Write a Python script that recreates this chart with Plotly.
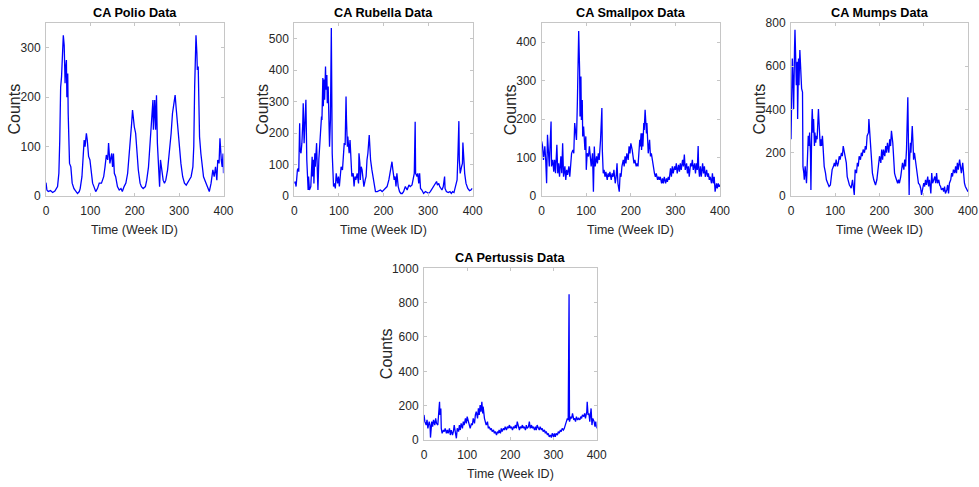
import plotly.graph_objects as go

# ---------------- data (week id, counts) ----------------
polio_weeks = [0, 2, 5, 10, 15, 20, 26, 29, 31, 32, 33, 35, 37, 39, 41, 43, 44, 46, 47, 49, 50, 53, 56, 59, 63,
               67, 71, 75, 77, 81, 84, 86, 88, 91, 93, 96, 99, 101, 105, 108, 112, 116, 120, 125, 130, 133,
               136, 139, 141, 144, 146, 148, 150, 152, 154, 157, 161, 165, 169, 172, 176, 180, 184, 188, 190,
               193, 195, 197, 199, 202, 205, 208, 212, 215, 219, 224, 227, 231, 233, 236, 239, 241, 242, 245,
               247, 249, 251, 254, 256, 258, 261, 264, 267, 270, 274, 278, 282, 285, 288, 291, 293, 295, 298,
               301, 304, 308, 312, 316, 319, 323, 327, 331, 333, 335, 337, 338, 340, 341, 343, 344, 346, 349,
               352, 355, 358, 362, 365, 368, 372, 374, 376, 379, 382, 385, 387, 390, 392, 395, 397, 399, 400]
polio_counts = [27, 12, 9, 11, 7, 10, 19, 46, 113, 180, 220, 241, 295, 325, 305, 228, 255, 275, 200, 248, 167,
                66, 59, 26, 15, 9, 5, 9, 15, 39, 80, 113, 100, 127, 113, 80, 73, 53, 26, 19, 9, 15, 26, 26,
                39, 59, 83, 73, 107, 66, 73, 86, 59, 86, 46, 39, 19, 12, 15, 9, 19, 26, 46, 86, 120, 147,
                174, 154, 140, 127, 86, 53, 26, 19, 15, 19, 32, 59, 86, 127, 160, 194, 134, 194, 134, 204,
                107, 66, 19, 73, 46, 32, 26, 32, 53, 86, 127, 167, 187, 204, 181, 160, 120, 86, 66, 39, 26,
                22, 26, 32, 39, 59, 100, 221, 275, 325, 289, 255, 262, 187, 120, 86, 59, 39, 32, 22, 15, 9,
                26, 39, 53, 39, 59, 32, 73, 66, 117, 73, 59, 86, 46]

rubella_weeks = [0, 2, 4, 7, 9, 10, 12, 13, 15, 17, 19, 20, 22, 23, 25, 26, 28, 31, 32, 34, 37, 40, 41, 43, 44,
                 46, 47, 49, 50, 52, 53, 55, 57, 59, 61, 62, 64, 65, 67, 68, 70, 71, 73, 74, 76, 77, 79, 81,
                 83, 85, 86, 88, 90, 92, 94, 97, 99, 101, 103, 105, 108, 110, 112, 114, 116, 117, 119, 120,
                 123, 125, 127, 129, 132, 134, 136, 138, 141, 144, 145, 147, 148, 150, 152, 154, 156, 159, 161,
                 163, 165, 168, 169, 171, 174, 176, 179, 182, 186, 189, 193, 197, 200, 204, 208, 212, 215, 218,
                 219, 221, 224, 226, 228, 230, 233, 236, 239, 242, 245, 249, 253, 257, 260, 264, 267, 269, 271,
                 272, 275, 277, 279, 281, 283, 286, 290, 294, 298, 301, 305, 309, 313, 316, 319, 321, 324, 326,
                 328, 331, 334, 337, 338, 341, 345, 349, 352, 355, 358, 361, 365, 367, 369, 370, 372, 375, 377,
                 378, 380, 382, 385, 389, 393, 396, 399]
rubella_counts = [40, 46, 30, 83, 88, 77, 231, 146, 136, 168, 231, 295, 168, 200, 300, 306, 115, 19, 62, 19, 30,
                  125, 62, 115, 40, 136, 93, 157, 168, 62, 19, 115, 157, 189, 253, 242, 375, 285, 370, 306, 412,
                  338, 385, 295, 348, 221, 157, 242, 534, 136, 72, 30, 40, 24, 72, 40, 62, 30, 62, 93, 83, 136,
                  168, 162, 316, 242, 157, 189, 136, 178, 115, 62, 72, 30, 62, 51, 72, 40, 136, 104, 51, 93, 83,
                  62, 30, 51, 62, 115, 136, 194, 157, 115, 83, 62, 40, 14, 14, 17, 19, 14, 19, 24, 30, 51, 72,
                  93, 109, 83, 51, 62, 30, 72, 30, 14, 8, 8, 14, 30, 19, 35, 30, 35, 62, 72, 236, 72, 62, 72, 40,
                  72, 24, 19, 8, 14, 11, 8, 14, 24, 30, 40, 46, 35, 40, 30, 24, 19, 30, 62, 24, 14, 11, 14, 8,
                  14, 11, 30, 51, 136, 238, 115, 72, 93, 104, 170, 115, 72, 40, 24, 17, 19, 24]

smallpox_weeks = [0, 2, 4, 7, 9, 11, 13, 16, 17, 19, 21, 22, 25, 27, 29, 31, 34, 36, 38, 40, 43, 45, 47, 49, 52,
                  54, 56, 58, 61, 63, 65, 67, 70, 72, 74, 76, 78, 80, 82, 83, 85, 86, 88, 89, 91, 92, 94, 95,
                  97, 99, 100, 102, 105, 107, 109, 111, 114, 116, 118, 120, 123, 125, 127, 129, 132, 133, 135,
                  136, 138, 140, 142, 144, 147, 149, 151, 153, 156, 158, 160, 162, 165, 167, 169, 171, 174, 176,
                  178, 180, 183, 185, 187, 189, 191, 194, 196, 198, 200, 203, 205, 207, 209, 212, 214, 216, 218,
                  220, 221, 223, 224, 226, 227, 229, 230, 232, 233, 235, 236, 238, 239, 242, 244, 246, 248, 251,
                  253, 255, 257, 260, 262, 264, 266, 269, 271, 273, 275, 278, 280, 282, 284, 286, 289, 291, 293,
                  295, 298, 300, 302, 304, 307, 309, 311, 313, 316, 318, 320, 322, 325, 327, 329, 331, 334, 336,
                  338, 340, 343, 345, 347, 349, 351, 352, 354, 356, 358, 361, 363, 365, 367, 370, 372, 374, 376,
                  378, 381, 383, 385, 387, 389, 392, 394, 396, 398, 400]
smallpox_counts = [142, 129, 94, 129, 94, 33, 159, 111, 77, 137, 194, 77, 94, 63, 94, 59, 133, 59, 85, 50, 103, 59,
                   137, 50, 77, 42, 68, 55, 77, 50, 85, 111, 120, 111, 190, 172, 146, 242, 355, 429, 329, 207,
                   311, 198, 250, 155, 181, 146, 120, 155, 68, 111, 103, 129, 94, 77, 111, 11, 129, 77, 103, 85,
                   111, 94, 146, 198, 229, 120, 59, 68, 50, 63, 42, 59, 50, 63, 42, 59, 50, 68, 33, 50, 85, 33,
                   11, 59, 50, 77, 94, 77, 103, 85, 111, 94, 129, 111, 137, 120, 103, 85, 94, 77, 85, 77, 111,
                   146, 129, 163, 120, 163, 129, 190, 172, 224, 198, 163, 190, 146, 111, 146, 103, 111, 94, 77,
                   59, 50, 59, 42, 50, 42, 50, 33, 46, 33, 50, 33, 46, 37, 50, 42, 72, 50, 77, 59, 77, 68, 85,
                   59, 81, 63, 85, 68, 94, 77, 108, 68, 85, 59, 77, 50, 85, 77, 94, 68, 85, 59, 85, 68, 130, 77,
                   50, 77, 50, 85, 59, 77, 50, 68, 50, 59, 42, 50, 33, 59, 33, 50, 11, 33, 20, 33, 24, 29]

mumps_weeks = [0, 2, 3, 5, 6, 8, 9, 11, 12, 14, 15, 17, 18, 20, 21, 23, 24, 26, 27, 29, 30, 32, 33, 35, 36, 38,
               39, 41, 42, 44, 45, 47, 48, 50, 51, 53, 54, 56, 57, 59, 60, 62, 63, 65, 66, 68, 69, 71, 73, 75,
               78, 80, 83, 86, 89, 91, 93, 96, 98, 100, 102, 105, 107, 109, 111, 114, 116, 118, 120, 123, 125,
               127, 130, 132, 134, 136, 139, 141, 143, 145, 148, 150, 152, 154, 157, 159, 161, 163, 166, 168,
               170, 172, 175, 176, 178, 180, 182, 184, 187, 189, 191, 194, 196, 198, 200, 203, 205, 207, 209,
               212, 214, 216, 218, 221, 223, 225, 227, 230, 232, 234, 236, 239, 241, 243, 245, 248, 250, 252,
               255, 257, 259, 261, 264, 265, 267, 268, 270, 271, 273, 274, 276, 277, 279, 282, 284, 286, 288,
               291, 293, 295, 297, 300, 302, 304, 306, 309, 311, 313, 316, 318, 320, 322, 325, 327, 329, 331,
               334, 336, 338, 340, 343, 345, 347, 349, 352, 354, 356, 358, 361, 363, 365, 367, 370, 372, 374,
               376, 378, 381, 383, 385, 388, 390, 392, 394, 396, 400]
mumps_counts = [262, 512, 636, 496, 402, 683, 769, 605, 512, 621, 356, 636, 512, 675, 605, 512, 496, 480, 137,
                106, 75, 137, 90, 59, 106, 200, 278, 231, 293, 200, 28, 340, 402, 293, 356, 231, 293, 246, 278,
                262, 309, 402, 356, 293, 231, 262, 231, 278, 200, 137, 106, 75, 59, 44, 51, 90, 122, 137, 153,
                137, 168, 137, 153, 184, 168, 200, 184, 231, 207, 184, 153, 90, 59, 51, 44, 36, 75, 28, 5, 122,
                106, 153, 137, 184, 168, 200, 184, 215, 200, 231, 215, 278, 293, 356, 278, 200, 153, 106, 75,
                59, 51, 75, 122, 153, 184, 153, 215, 168, 215, 184, 231, 200, 246, 200, 262, 231, 301, 246, 168,
                106, 90, 75, 59, 75, 59, 90, 137, 153, 122, 168, 137, 215, 457, 200, 5, 168, 246, 200, 262, 324,
                231, 168, 200, 153, 106, 75, 59, 51, 36, 5, 28, 59, 44, 75, 51, 90, 44, 75, 12, 106, 59, 75, 90,
                59, 106, 59, 75, 51, 44, 28, 36, 20, 44, 12, 28, 51, 12, 59, 75, 106, 90, 122, 106, 137, 106,
                153, 122, 168, 137, 106, 153, 90, 59, 44, 36, 20]

pertussis_weeks = [0, 2, 5, 7, 9, 12, 14, 15, 18, 20, 22, 25, 27, 29, 32, 34, 36, 37, 39, 40, 42, 45, 47, 49, 52,
                   54, 56, 59, 61, 63, 66, 68, 70, 73, 75, 77, 80, 82, 84, 86, 89, 91, 93, 96, 98, 100, 103, 105,
                   107, 110, 112, 114, 117, 119, 121, 124, 126, 128, 130, 132, 134, 136, 137, 140, 142, 144, 147,
                   149, 151, 154, 156, 158, 161, 163, 165, 168, 170, 172, 174, 177, 179, 181, 184, 186, 188, 191,
                   193, 195, 198, 200, 202, 205, 207, 209, 212, 214, 216, 218, 221, 223, 225, 228, 230, 232, 235,
                   237, 239, 242, 244, 246, 249, 251, 253, 256, 258, 260, 262, 265, 267, 269, 272, 274, 276, 279,
                   281, 283, 286, 288, 290, 293, 295, 297, 300, 302, 304, 306, 309, 311, 313, 316, 318, 320, 323,
                   325, 327, 330, 332, 334, 336, 337, 340, 342, 344, 347, 349, 351, 353, 356, 358, 361, 363, 365,
                   367, 370, 372, 374, 377, 378, 380, 382, 384, 387, 389, 391, 394, 396, 398, 400]
pertussis_counts = [146, 107, 87, 117, 68, 107, 87, 14, 107, 78, 117, 87, 126, 97, 87, 165, 223, 146, 184, 68, 39,
                    58, 49, 68, 39, 58, 39, 68, 29, 58, 29, 49, 87, 39, 10, 68, 49, 87, 58, 97, 68, 107, 87, 126,
                    97, 136, 107, 87, 68, 97, 87, 126, 97, 146, 165, 126, 184, 146, 204, 165, 223, 155, 194, 126,
                    107, 87, 107, 68, 78, 58, 68, 49, 58, 39, 49, 29, 49, 39, 58, 39, 68, 49, 68, 58, 78, 58, 78,
                    68, 87, 68, 78, 58, 78, 68, 87, 68, 107, 78, 58, 78, 68, 87, 68, 78, 58, 87, 68, 78, 107, 68,
                    87, 68, 78, 58, 78, 58, 87, 68, 58, 78, 58, 68, 49, 58, 39, 49, 29, 39, 19, 29, 14, 39, 19, 39,
                    19, 39, 29, 49, 39, 58, 49, 68, 58, 68, 87, 107, 126, 117, 849, 107, 136, 126, 155, 117, 126,
                    107, 136, 117, 126, 117, 136, 126, 146, 136, 155, 126, 165, 223, 146, 155, 107, 184, 87, 126,
                    107, 78, 107, 68]

titles = ["CA Polio Data", "CA Rubella Data", "CA Smallpox Data", "CA Mumps Data", "CA Pertussis Data"]
x_title = "Time (Week ID)"
y_title = "Counts"
x_ticks = [0, 100, 200, 300, 400]
y_ticks = [
    [0, 100, 200, 300],
    [0, 100, 200, 300, 400, 500],
    [0, 100, 200, 300, 400],
    [0, 200, 400, 600, 800],
    [0, 200, 400, 600, 800, 1000],
]
y_max = [350, 550, 450, 800, 1000]

series = [
    (polio_weeks, polio_counts),
    (rubella_weeks, rubella_counts),
    (smallpox_weeks, smallpox_counts),
    (mumps_weeks, mumps_counts),
    (pertussis_weeks, pertussis_counts),
]

# ---------------- layout ----------------
W, H = 979, 487


def px(xv):
    return xv / W


def py(yv):
    return 1 - yv / H


# plot boxes in pixels: (left, right, top, bottom)
boxes = [
    (46, 223.5, 23, 196),
    (294.3, 472.7, 23, 196),
    (541.7, 720, 23, 196),
    (791, 968, 23, 196),
    (424, 596.7, 268.3, 440),
]
# distance of the rotated y title centre left of the axis
ytitle_gap = [32, 32, 31, 32, 38]

FONT = "Liberation Sans, Arial, Helvetica, sans-serif"
TXT = "#262626"
AX = "#c6c6c6"

fig = go.Figure()
layout = dict(
    width=W, height=H,
    margin=dict(l=0, r=0, t=0, b=0, autoexpand=False),
    paper_bgcolor="white", plot_bgcolor="white",
    showlegend=False,
    font=dict(family=FONT, color=TXT, size=12),
    annotations=[],
)

for i, ((wk, ct), (l, r, t, b)) in enumerate(zip(series, boxes)):
    n = "" if i == 0 else str(i + 1)
    fig.add_trace(go.Scatter(
        x=wk, y=ct, mode="lines",
        line=dict(color="#0000ff", width=1.3),
        xaxis="x" + n, yaxis="y" + n, hoverinfo="skip",
    ))
    common = dict(
        showline=True, linecolor=AX, linewidth=1, mirror="ticks",
        ticks="inside", ticklen=3, tickcolor=AX, tickwidth=1,
        showgrid=False, zeroline=False, automargin=False,
        tickfont=dict(family=FONT, size=12, color=TXT),
    )
    layout["xaxis" + n] = dict(
        common, domain=[px(l), px(r)], anchor="y" + n,
        range=[0, 400], tickvals=x_ticks, ticklabelstandoff=4,
    )
    layout["yaxis" + n] = dict(
        common, domain=[py(b), py(t)], anchor="x" + n,
        range=[0, y_max[i]], tickvals=y_ticks[i], ticklabelstandoff=2,
    )
    cx = (l + r) / 2
    # subplot title
    layout["annotations"].append(dict(
        text="<b>" + titles[i] + "</b>", xref="paper", yref="paper",
        x=px(cx), y=py(t - 10.5), xanchor="center", yanchor="middle",
        showarrow=False, font=dict(family=FONT, size=12.7, color="black"),
    ))
    # x axis title
    layout["annotations"].append(dict(
        text=x_title, xref="paper", yref="paper",
        x=px(cx), y=py(b + 34), xanchor="center", yanchor="middle",
        showarrow=False, font=dict(family=FONT, size=12.5, color=TXT),
    ))
    # y axis title
    layout["annotations"].append(dict(
        text=y_title, xref="paper", yref="paper", textangle=-90,
        x=px(l - ytitle_gap[i]), y=py((t + b) / 2), xanchor="center", yanchor="middle",
        showarrow=False, font=dict(family=FONT, size=16, color=TXT),
    ))

fig.update_layout(**layout)
fig.write_html(
    "out.html",
    config={"displayModeBar": False},
    post_script="document.body.style.margin='0px';document.body.style.overflow='hidden';",
)
